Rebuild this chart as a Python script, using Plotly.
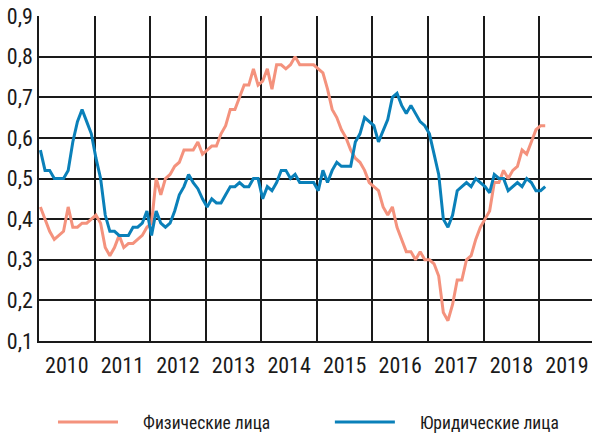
import plotly.graph_objects as go

# Monthly observations, Jan 2010 .. Feb 2019
start_year = 2010
individuals = [
    0.43, 0.40, 0.37, 0.35, 0.36, 0.37, 0.43, 0.38, 0.38, 0.39, 0.39, 0.40,
    0.41, 0.39, 0.33, 0.31, 0.33, 0.36, 0.33, 0.34, 0.34, 0.35, 0.36, 0.38,
    0.39, 0.50, 0.46, 0.50, 0.51, 0.53, 0.54, 0.57, 0.57, 0.57, 0.59, 0.56,
    0.57, 0.58, 0.58, 0.61, 0.63, 0.67, 0.67, 0.70, 0.73, 0.73, 0.77, 0.73,
    0.74, 0.77, 0.72, 0.78, 0.78, 0.77, 0.78, 0.80, 0.78, 0.78, 0.78, 0.78,
    0.77, 0.76, 0.72, 0.67, 0.65, 0.62, 0.60, 0.57, 0.55, 0.54, 0.52, 0.49,
    0.48, 0.47, 0.43, 0.41, 0.43, 0.38, 0.35, 0.32, 0.32, 0.30, 0.32, 0.30,
    0.30, 0.29, 0.26, 0.17, 0.15, 0.19, 0.25, 0.25, 0.30, 0.31, 0.35, 0.38,
    0.40, 0.42, 0.49, 0.49, 0.52, 0.50, 0.52, 0.53, 0.57, 0.56, 0.59, 0.62,
    0.63, 0.63,
]
legal = [
    0.57, 0.52, 0.52, 0.50, 0.50, 0.50, 0.52, 0.59, 0.64, 0.67, 0.64, 0.61,
    0.55, 0.50, 0.41, 0.37, 0.37, 0.36, 0.36, 0.36, 0.38, 0.38, 0.39, 0.42,
    0.36, 0.42, 0.39, 0.38, 0.39, 0.42, 0.46, 0.48, 0.51, 0.49, 0.475, 0.45,
    0.43, 0.45, 0.44, 0.44, 0.46, 0.48, 0.48, 0.49, 0.48, 0.48, 0.50, 0.50,
    0.45, 0.48, 0.47, 0.49, 0.52, 0.52, 0.50, 0.51, 0.49, 0.49, 0.49, 0.49,
    0.47, 0.52, 0.49, 0.52, 0.54, 0.53, 0.53, 0.53, 0.59, 0.61, 0.65, 0.64,
    0.63, 0.59, 0.62, 0.645, 0.70, 0.71, 0.68, 0.66, 0.68, 0.66, 0.64, 0.63,
    0.61, 0.56, 0.51, 0.40, 0.38, 0.41, 0.47, 0.48, 0.49, 0.48, 0.50, 0.49,
    0.48, 0.465, 0.51, 0.50, 0.50, 0.47, 0.48, 0.49, 0.48, 0.50, 0.49, 0.47,
    0.47, 0.48,
]
years = list(range(2010, 2020))
year_labels = [str(y) for y in years]
y_ticks = [0.1, 0.2, 0.3, 0.4, 0.5, 0.6, 0.7, 0.8, 0.9]
series_names = ["Физические лица", "Юридические лица"]
colors = ["#F4927D", "#0A80B9"]

x_ind = [start_year + (i + 0.3) / 12 for i in range(len(individuals))]
x_leg = [start_year + (i + 0.3) / 12 for i in range(len(legal))]

FONT = "Roboto Condensed, PT Sans Narrow, Liberation Sans Narrow, Arial Narrow, DejaVu Sans Condensed, sans-serif"
INK = "#1a1a1a"
PAD = "\u00a0" * 5

fig = go.Figure()
fig.add_trace(go.Scatter(x=x_ind, y=individuals, mode="lines", name=PAD + series_names[0],
                         line=dict(color=colors[0], width=3), legend="legend"))
fig.add_trace(go.Scatter(x=x_leg, y=legal, mode="lines", name=PAD + series_names[1],
                         line=dict(color=colors[1], width=3), legend="legend2"))

legend_common = dict(
    xref="paper", yref="paper", xanchor="left", yanchor="middle",
    orientation="h", itemwidth=60, bgcolor="rgba(0,0,0,0)",
    font=dict(family=FONT, size=17.5, color=INK),
)

fig.update_layout(
    width=592, height=440,
    margin=dict(l=39, r=0, t=16, b=87),
    paper_bgcolor="white", plot_bgcolor="white",
    separators=", ",
    showlegend=True,
    font=dict(family=FONT, size=22, color=INK),
    xaxis=dict(
        range=[2010, 2019.95],
        tickmode="array",
        tickvals=[y + 0.5 for y in years],
        ticktext=year_labels,
        showgrid=False, zeroline=False, automargin=False,
        ticks="", ticklabelstandoff=4,
        showline=True, linecolor=INK, linewidth=1.5,
        minor=dict(tickmode="array", tickvals=years[1:], showgrid=True,
                   gridcolor=INK, gridwidth=1.5, ticks=""),
    ),
    yaxis=dict(
        range=[0.1, 0.9],
        tickmode="array", tickvals=y_ticks, tickformat=".1f",
        showgrid=True, gridcolor=INK, gridwidth=1.5, automargin=False,
        zeroline=False, ticks="", ticklabelstandoff=0,
        showline=True, linecolor=INK, linewidth=1.5,
    ),
    legend=dict(x=0.0253, y=-0.251, **legend_common),
    legend2=dict(x=0.526, y=-0.251, **legend_common),
)

fig.write_html("out.html", config={"displayModeBar": False},
               post_script="document.body.style.margin='0';")
